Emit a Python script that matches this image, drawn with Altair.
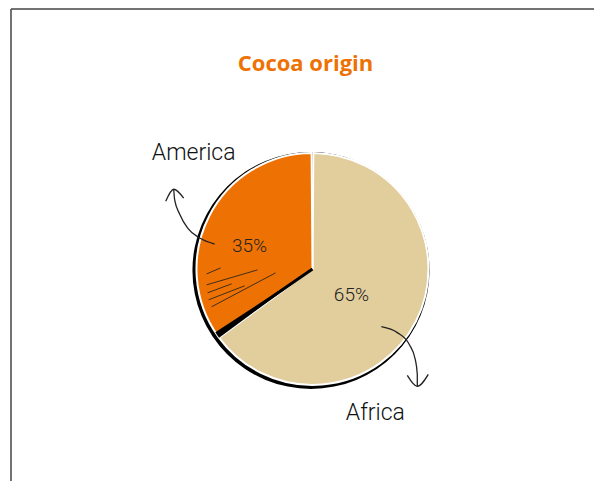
import math
import altair as alt
import pandas as pd

# ---- data ----
categories = ["Africa", "America"]
shares = [65, 35]
slice_colors = ["#E2CD9C", "#EE7203"]

pie_center_x = [313]
pie_center_y = [269]
pie_radius = [116]
outline_center_x = [311.5]
outline_center_y = [270.5]

pct_labels = ["65%", "35%"]
pct_label_x = [352, 250]
pct_label_y = [295, 246]

name_labels = ["Africa", "America"]
name_label_x = [376, 194]
name_label_y = [414, 153]

# arrows (page coordinates), grouped by path id
arrow_path = ["am", "am", "am", "am", "am", "am",
              "amh", "amh", "amh",
              "af", "af", "af", "af", "af", "af",
              "afh", "afh", "afh"]
arrow_x = [215, 200, 188, 180, 175, 174,
           166, 174, 184,
           382, 398, 410, 416, 418, 418,
           408, 418, 429]
arrow_y = [244, 238, 228, 214, 200, 189,
           201, 189, 198,
           327, 333, 345, 360, 375, 387,
           376, 387, 375]

# sketch hatching inside America slice
hatch_x1 = [207, 207, 208, 209, 212]
hatch_y1 = [274, 285, 293, 300, 307]
hatch_x2 = [221, 258, 232, 245, 276]
hatch_y2 = [268, 270, 284, 286, 273]

# frame lines
frame_left_x = [11]
frame_top_y = [8]

title_text = ["Cocoa origin"]
title_x = [306]
title_y = [70]

# ---- tables ----
ends = pd.Series(shares).cumsum()
pie_df = pd.DataFrame({
    "category": categories,
    "share": shares,
    "start": ends - pd.Series(shares),
    "end": ends,
    "cx": pie_center_x * len(categories),
    "cy": pie_center_y * len(categories),
})
boundary_df = pd.DataFrame({
    "start": [ends[0] - 0.1], "end": [ends[0] + 0.8],
    "cx": pie_center_x, "cy": pie_center_y,
})
ang = 2 * math.pi * (ends[0] + 0.35) / 100
edge_df = pd.DataFrame({
    "x": pie_center_x, "y": pie_center_y,
    "x2": [pie_center_x[0] + pie_radius[0] * math.sin(ang)],
    "y2": [pie_center_y[0] - pie_radius[0] * math.cos(ang)],
})
disc_df = pd.DataFrame({"start": [0], "end": [100],
                        "cx": outline_center_x, "cy": outline_center_y})
pct_df = pd.DataFrame({"t": pct_labels, "x": pct_label_x, "y": pct_label_y})
name_df = pd.DataFrame({"t": name_labels, "x": name_label_x, "y": name_label_y})
arrow_df = pd.DataFrame({"path": arrow_path, "x": arrow_x, "y": arrow_y,
                         "o": list(range(len(arrow_x)))})
hatch_df = pd.DataFrame({"x": hatch_x1, "y": hatch_y1, "x2": hatch_x2, "y2": hatch_y2})
frame_df = pd.DataFrame({"fx": frame_left_x, "fy": frame_top_y})
title_df = pd.DataFrame({"t": title_text, "x": title_x, "y": title_y})

W, H = 586, 473
xs = alt.Scale(domain=[8, 8 + W], nice=False, zero=False)
ys = alt.Scale(domain=[8, 8 + H], nice=False, zero=False, reverse=True)
ts = alt.Scale(domain=[0, 100])
X = lambda f: alt.X(f, type="quantitative", scale=xs, axis=None)
Y = lambda f: alt.Y(f, type="quantitative", scale=ys, axis=None)

disc = alt.Chart(disc_df).mark_arc(color="black").encode(
    x=X("cx"), y=Y("cy"),
    theta=alt.Theta("start:Q", scale=ts), theta2="end:Q",
    radius=alt.value(118.5),
)

pie = alt.Chart(pie_df).mark_arc(stroke="white", strokeWidth=2, padAngle=0.015).encode(
    x=X("cx"), y=Y("cy"),
    theta=alt.Theta("start:Q", scale=ts), theta2="end:Q",
    radius=alt.value(pie_radius[0]),
    color=alt.Color("category:N", scale=alt.Scale(domain=categories, range=slice_colors), legend=None),
)

boundary = alt.Chart(boundary_df).mark_arc(color="black").encode(
    x=X("cx"), y=Y("cy"),
    theta=alt.Theta("start:Q", scale=ts), theta2="end:Q",
    radius=alt.value(pie_radius[0]),
)

edge = alt.Chart(edge_df).mark_rule(color="black", strokeWidth=3).encode(
    x=X("x"), y=Y("y"), x2="x2", y2="y2")

hatch = alt.Chart(hatch_df).mark_rule(color="#222", strokeWidth=1, opacity=0.85).encode(
    x=X("x"), y=Y("y"), x2="x2", y2="y2")

arrows = alt.Chart(arrow_df).mark_line(color="#222", strokeWidth=1.3, interpolate="monotone").encode(
    x=X("x"), y=Y("y"), detail="path:N", order="o:Q")

pct = alt.Chart(pct_df).mark_text(font="Roboto", fontWeight=300, fontSize=19, color="#222").encode(
    x=X("x"), y=Y("y"), text="t:N")

names = alt.Chart(name_df).mark_text(font="Roboto", fontWeight=300, fontSize=23, color="#111").encode(
    x=X("x"), y=Y("y"), text="t:N")

title = alt.Chart(title_df).mark_text(font="Open Sans", fontSize=22, fontWeight="bold",
                                      color="#EE7203", baseline="alphabetic").encode(
    x=X("x"), y=Y("y"), text="t:N")

frame_left = alt.Chart(frame_df).mark_rule(color="#444", strokeWidth=1.5).encode(
    x=X("fx"), y=alt.value(0), y2=alt.value(H))
frame_top = alt.Chart(frame_df).mark_rule(color="#444", strokeWidth=1.5).encode(
    y=Y("fy"), x=X("fx"), x2=alt.value(W))

chart = alt.layer(
    frame_left, frame_top, disc, pie, boundary, edge, hatch, arrows, pct, names, title
).properties(
    width=W, height=H, padding=0,
    autosize=alt.AutoSizeParams(type="fit", contains="padding"),
).configure_view(stroke=None)

chart.save("out.html", embed_options={"renderer": "svg", "actions": False})
